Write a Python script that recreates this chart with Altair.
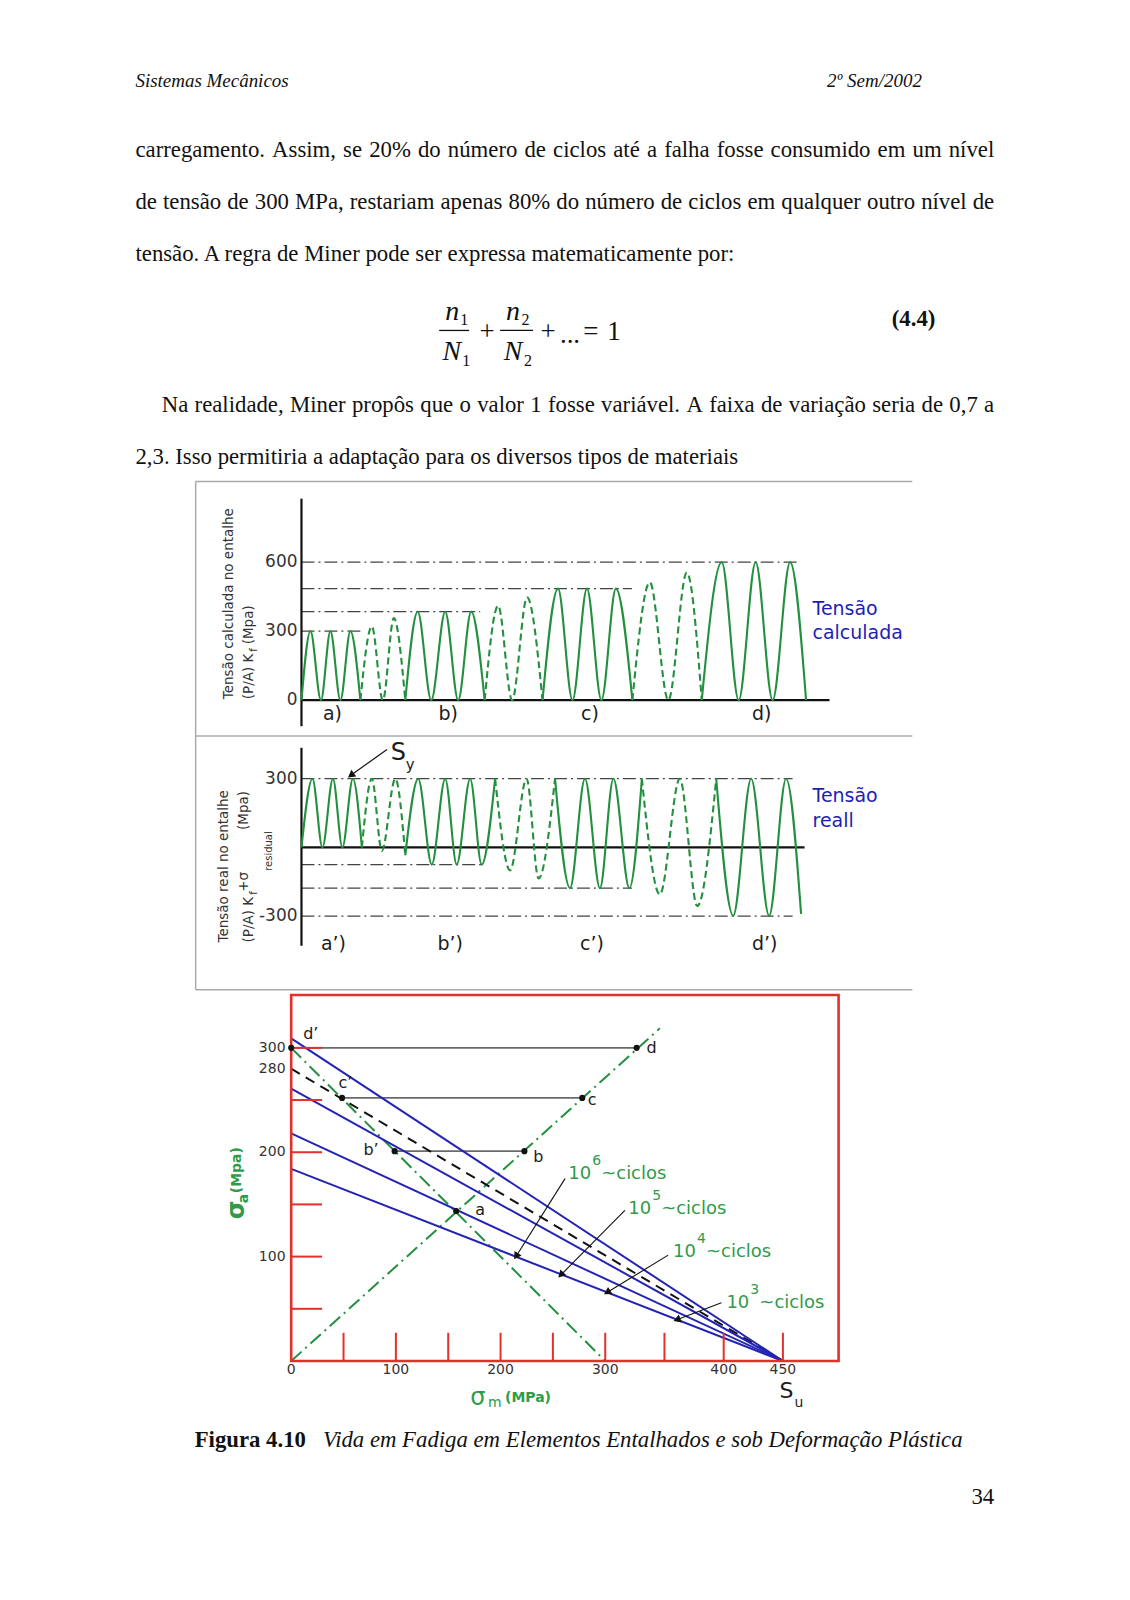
import unicodedata
import altair as alt
import pandas as pd

W = 1114
SERIF = "Liberation Serif"
SANS = "DejaVu Sans"
GREEN = "#22903e"
TXT_GREEN = "#2f9b48"
BLUE_TXT = "#1e1eb4"
BLUE = "#2424b4"
RED = "#e3302a"
FRAME = "#aaaaaa"
INK = "#1c1c1c"
GREY = "#333333"
DASHDOT = [13, 4, 2, 4]

# ------------------------------------------------------------------ page text
HEADER_TEXT = ["Sistemas Mecânicos", "2º Sem/2002"]
HEADER_X = [134.7, 922.5]
HEADER_Y = [79.0, 79.0]

BODY_TEXT = [
    "carregamento. Assim, se 20% do número de ciclos até a falha fosse consumido em um nível",
    "de tensão de 300 MPa, restariam apenas 80% do número de ciclos em qualquer outro nível de",
    "tensão. A regra de Miner pode ser expressa matematicamente por:",
    "Na realidade, Miner propôs que o valor 1 fosse variável. A faixa de variação seria de 0,7 a",
    "2,3. Isso permitiria a adaptação para os diversos tipos de materiais",
]
BODY_X = [134.7, 134.7, 134.7, 161.0, 134.7]
BODY_Y = [148, 200, 252, 403, 455]
BODY_JUSTIFY = [True, True, False, True, False]
BODY_RIGHT = 995.0
BODY_SIZE = 22.8

EQ_VAR = ["n", "N", "n", "N"]
EQ_VAR_X = [452, 451.5, 513, 513]
EQ_VAR_Y = [310, 350, 310, 350]
EQ_SUB = ["1", "1", "2", "2"]
EQ_SUB_X = [464, 466, 525.5, 528]
EQ_SUB_Y = [318, 359, 318, 359]
EQ_OP = ["+", "+", "...", "=", "1"]
EQ_OP_X = [487, 548, 570, 591, 614]
EQ_OP_Y = [330, 330, 333, 330, 330]
EQ_BAR_X0 = [439, 500]
EQ_BAR_X1 = [469, 533]
EQ_BAR_Y = [328.6, 328.6]
EQ_NUM = ["(4.4)"]
EQ_NUM_X = [936]
EQ_NUM_Y = [317]

CAPTION_BOLD = ["Figura 4.10"]
CAPTION_IT = ["Vida em Fadiga em Elementos Entalhados e sob Deformação Plástica"]
CAPTION_X = [194, 322.5]
CAPTION_Y = [1440, 1440]
PAGE_NUM = ["34"]

# ------------------------------------------------------------------ top panel: calculated stress
TOP_T = [0, 9, 19.5, 29, 39, 49, 59, 70.5, 81.5, 92.5, 104, 116.5, 130, 144, 157, 170, 183.5,
         197, 211, 226, 241.5, 257, 271.5, 286, 300.5, 315, 331.5, 349, 367.5, 386, 401,
         421, 438, 455, 472, 489.5, 505.5]
TOP_V = [0, 300, 0, 300, 0, 300, 0, 321, 0, 357, 0, 385, 0, 385, 0, 385, 0, 411, 0, 447, 0,
         485, 0, 485, 0, 485, 0, 512, 0, 555, 0, 600, 0, 600, 0, 600, 0]
TOP_RUNS = [("solid", 6), ("dashed", 4), ("solid", 6), ("dashed", 4), ("solid", 6),
            ("dashed", 4), ("solid", 6)]
TOP_LEVELS = [300, 385, 485, 600]
TOP_LEVEL_END = [59, 179, 331, 496]
TOP_TICKS = [600, 300, 0]
TOP_GROUPS = ["a)", "b)", "c)", "d)"]
TOP_GROUP_T = [31, 147, 289, 461]

# ------------------------------------------------------------------ middle panel: real stress
MID_T = [0, 11, 21, 31.5, 41, 51.5, 60.5, 70.5, 80.5, 94, 104, 117, 130.5, 144, 155.5, 169,
         180.5, 194, 209, 225.5, 237.5, 254, 269, 284, 299, 312.5, 328.5, 341, 359, 379,
         396.5, 415.5, 432.5, 450.5, 468.5, 485.5, 500.5]
MID_V = [0, 300, 0, 300, 0, 300, 0, 300, -15, 300, -35, 300, -75, 300, -75, 300, -75, 300,
         -100, 300, -135, 300, -178, 300, -178, 300, -178, 300, -205, 300, -256, 300,
         -298, 300, -298, 300, -290]
MID_RUNS = [("solid", 6), ("dashed", 4), ("solid", 7), ("dashed", 4), ("solid", 6),
            ("dashed", 4), ("solid", 5)]
MID_LEVELS = [300, -75, -178, -300]
MID_LEVEL_END = [492, 182, 331, 492]
MID_TICKS = [300, -300]
MID_GROUPS = ["a’)", "b’)", "c’)", "d’)"]
MID_GROUP_T = [32, 149, 291, 464]

# ------------------------------------------------------------------ bottom panel: Goodman diagram
SU = 450
LIFE_INTERCEPT = [309, 261, 218, 184]
DASHED_INTERCEPT = 280
PT_NAME = ["d’", "d", "c’", "c", "b’", "b", "a"]
PT_SM = [0, 326.5, 48.6, 278.1, 98.8, 222.8, 157.6]
PT_SA = [300, 300, 252, 252, 201, 201, 143.7]
PT_LBL_SM = [18.7, 339.1, 51.8, 287.5, 76.3, 236.1, 180.5]
PT_LBL_SA = [313.4, 300, 266.5, 249.6, 202.4, 195.4, 144.4]
PAIRS = [(0, 1), (2, 3), (4, 5)]
GREEN_LINE_1 = [(0, 0), (346.1, 318.7)]
GREEN_LINE_2 = [(0, 300), (300, 0)]
LBL_EXP = ["6", "5", "4", "3"]
LBL_SM = [264.7, 319.4, 357.3, 402.3]
LBL_SA = [179.5, 146.0, 104.5, 55.8]
ARR_SM0 = [261.6, 316.6, 353.1, 398.1]
ARR_SA0 = [174.7, 144.4, 101.4, 55.8]
ARR_SM1 = [215.5, 258.4, 302.5, 361.5]
ARR_SA1 = [101.3, 83.2, 66.3, 39.9]
ARR_ANG = [212.2, 224.7, 238.5, 249.1]
YTICK_LBL = ["300", "280", "200", "100"]
YTICK_V = [300, 280, 200, 100]
XTICK_LBL = ["0", "100", "200", "300", "400", "450"]
XTICK_V = [0, 100, 200, 300, 400, 450]
RED_YTICKS = [50, 100, 150, 200, 250, 300]
RED_XTICKS = [50, 100, 150, 200, 250, 300, 350, 400, 450]

# Times / Liberation Serif advance widths (1/1000 em), used to justify body lines
TIMES_W = dict(zip("abcdefghijklmnopqrstuvwxyz",
                   [444, 500, 444, 500, 444, 333, 500, 500, 278, 278, 500, 278, 778, 500, 500,
                    500, 500, 333, 389, 278, 500, 500, 722, 500, 500, 444]))
TIMES_W.update({"A": 722, "M": 889, "P": 556, "N": 722, "I": 333, "S": 556, ".": 250, ",": 250,
                "%": 833, ":": 278, " ": 250})
for d in "0123456789":
    TIMES_W[d] = 500


def word_w(word, size):
    tot = 0
    for c in word:
        base = unicodedata.normalize("NFD", c)[0]
        tot += TIMES_W.get(base, 500)
    return tot * size / 1000.0


def layout_body():
    xs, ys, words = [], [], []
    for line, x0, y, just in zip(BODY_TEXT, BODY_X, BODY_Y, BODY_JUSTIFY):
        if not just:
            xs.append(x0); ys.append(y); words.append(line)
            continue
        ws = line.split(" ")
        wid = [word_w(w, BODY_SIZE) for w in ws]
        gap = (BODY_RIGHT - x0 - sum(wid)) / (len(ws) - 1)
        x = x0
        for w, wd in zip(ws, wid):
            xs.append(x); ys.append(y); words.append(w)
            x += wd + gap
    return xs, ys, words


# ------------------------------------------------------------------ helpers
def sc(domain, reverse=False, rng=None):
    kw = {"domain": domain, "nice": False, "zero": False}
    if reverse:
        kw["reverse"] = True
    if rng is not None:
        kw["range"] = rng
    return alt.Scale(**kw)


def XY(xs, ys):
    return {"x": alt.X("x:Q", scale=xs, axis=None), "y": alt.Y("y:Q", scale=ys, axis=None)}


def T(xs, ys, xv, yv, labels, **mk):
    df = pd.DataFrame({"x": xv, "y": yv, "text": labels})
    mk.setdefault("baseline", "middle")
    return alt.Chart(df).mark_text(**mk).encode(**XY(xs, ys), text="text:N")


def R(xs, ys, x0, x1, y0, y1, **mk):
    df = pd.DataFrame({"x": x0, "x2": x1, "y": y0, "y2": y1})
    return alt.Chart(df).mark_rule(**mk).encode(**XY(xs, ys), x2="x2:Q", y2="y2:Q")


def waves(xs, ys, t, v, runs):
    rows = []
    i = 0
    for k, (style, n) in enumerate(runs):
        for j in range(i, i + n + 1):
            rows.append({"x": t[j], "y": v[j], "seg": k, "style": style})
        i += n
    df = pd.DataFrame(rows)
    out = []
    for style in ("solid", "dashed"):
        mk = dict(interpolate="monotone", color=GREEN, strokeWidth=2.1)
        if style == "dashed":
            mk["strokeDash"] = [7, 4]
        out.append(alt.Chart(df[df["style"] == style]).mark_line(**mk).encode(
            **XY(xs, ys), detail="seg:N", order="x:Q"))
    return out


# ------------------------------------------------------------------ chart A: text block
XA = sc([8, 1122])
YA = sc([8, 478], reverse=True)
serif = dict(font=SERIF, color="#111111")
bx, by, bw = layout_body()
chartA = alt.layer(
    T(XA, YA, [HEADER_X[0]], [HEADER_Y[0]], [HEADER_TEXT[0]], align="left", fontSize=19, fontStyle="italic", **serif),
    T(XA, YA, [HEADER_X[1]], [HEADER_Y[1]], [HEADER_TEXT[1]], align="right", fontSize=19, fontStyle="italic", **serif),
    T(XA, YA, bx, by, bw, align="left", fontSize=BODY_SIZE, **serif),
    T(XA, YA, EQ_VAR_X, EQ_VAR_Y, EQ_VAR, align="center", fontSize=28, fontStyle="italic", **serif),
    T(XA, YA, EQ_SUB_X, EQ_SUB_Y, EQ_SUB, align="center", fontSize=16, **serif),
    T(XA, YA, EQ_OP_X, EQ_OP_Y, EQ_OP, align="center", fontSize=27, **serif),
    T(XA, YA, EQ_NUM_X, EQ_NUM_Y, EQ_NUM, align="right", fontSize=22.8, fontWeight="bold", **serif),
    R(XA, YA, EQ_BAR_X0, EQ_BAR_X1, EQ_BAR_Y, EQ_BAR_Y, color="#111111", strokeWidth=1.3),
).properties(width=W, height=470)

# ------------------------------------------------------------------ chart B: calculated stress
XT = sc([-293, 821])
YB = sc([-147.5, 958.8])
lab = dict(font=SANS, color=INK)
chartB = alt.layer(
    R(XT, YB, [-106], [612], [950.1], [950.1], color=FRAME, strokeWidth=1.5),
    R(XT, YB, [-106], [-106], [-147.5], [950.1], color=FRAME, strokeWidth=1.5),
    R(XT, YB, [0] * 4, TOP_LEVEL_END, TOP_LEVELS, TOP_LEVELS, color="#444444", strokeWidth=1.2, strokeDash=DASHDOT),
    R(XT, YB, [0, 0], [0, 529], [-113, 0], [876, 0], color="#111111", strokeWidth=2.2),
    *waves(XT, YB, TOP_T, TOP_V, TOP_RUNS),
    T(XT, YB, [-4] * 3, TOP_TICKS, [str(v) for v in TOP_TICKS], align="right", fontSize=17, font=SANS, color=GREY),
    T(XT, YB, TOP_GROUP_T, [-60.7] * 4, TOP_GROUPS, align="center", fontSize=19, **lab),
    T(XT, YB, [512, 512], [397.8, 292], ["Tensão", "calculada"], align="left", fontSize=19, font=SANS, color=BLUE_TXT),
    T(XT, YB, [-72.7, -52.7, -52.7], [4.3, 4.3, 243], ["Tensão calculada no entalhe", "(P/A) K", "(Mpa)"],
      angle=270, align="left", fontSize=13.5, font=SANS, color=GREY),
    T(XT, YB, [-47.5], [210], ["f"], angle=270, align="left", fontSize=10, font=SANS, color=GREY),
).properties(width=W, height=255)

# ------------------------------------------------------------------ chart C: real stress
YC = sc([-629.6, 494.6])
chartC = alt.layer(
    R(XT, YC, [-106], [-106], [-620.9], [494.6], color=FRAME, strokeWidth=1.5),
    R(XT, YC, [-106, -106], [612, 612], [486.9, -620.9], [486.9, -620.9], color=FRAME, strokeWidth=1.5),
    R(XT, YC, [0] * 4, MID_LEVEL_END, MID_LEVELS, MID_LEVELS, color="#444444", strokeWidth=1.2, strokeDash=DASHDOT),
    R(XT, YC, [0, 0], [0, 504], [-429.2, 0], [434.9, 0], color="#111111", strokeWidth=2.2),
    *waves(XT, YC, MID_T, MID_V, MID_RUNS),
    T(XT, YC, [-4] * 2, MID_TICKS, [str(v) for v in MID_TICKS], align="right", fontSize=17, font=SANS, color=GREY),
    T(XT, YC, MID_GROUP_T, [-421.8] * 4, MID_GROUPS, align="center", fontSize=19, **lab),
    T(XT, YC, [512, 512], [224.4, 115.3], ["Tensão", "reall"], align="left", fontSize=19, font=SANS, color=BLUE_TXT),
    T(XT, YC, [-77.7, -52.7, -57.7, -58], [-414.8, -414.8, -193.7, 76.3],
      ["Tensão real no entalhe", "(P/A) K", "+σ", "(Mpa)"], angle=270, align="left", fontSize=13.5, font=SANS, color=GREY),
    T(XT, YC, [-48, -33], [-207, -102], ["f", "residual"], angle=270, align="left", fontSize=10, font=SANS, color=GREY),
    R(XT, YC, [85.7], [50.5], [427.9], [318], color="#111111", strokeWidth=1.2),
    alt.Chart(pd.DataFrame({"x": [50.5], "y": [318], "ang": [234.5]})).mark_point(
        shape="triangle", filled=True, size=70, color="#111111", opacity=1).encode(
        **XY(XT, YC), angle=alt.Angle("ang:Q", scale=None)),
    T(XT, YC, [97], [411], ["S"], align="center", fontSize=24, **lab),
    T(XT, YC, [104.5], [358], ["y"], align="left", fontSize=15, **lab),
).properties(width=W, height=258)

# ------------------------------------------------------------------ chart D: Goodman diagram
XD = sc([-269.6, 0, 300, 450, 735.4], rng=[0, 282.7, 597.3, 775.3, 1114])
YD = sc([-42.08, 353.83])
n_life = len(LIFE_INTERCEPT)
pts = pd.DataFrame({"x": PT_SM, "y": PT_SA})
heads = pd.DataFrame({"x": ARR_SM1, "y": ARR_SA1, "ang": ARR_ANG})
chartD = alt.layer(
    R(XD, YD, [PT_SM[a] for a, b in PAIRS], [PT_SM[b] for a, b in PAIRS],
      [PT_SA[a] for a, b in PAIRS], [PT_SA[b] for a, b in PAIRS], color="#6a6a6a", strokeWidth=1.8),
    R(XD, YD, [GREEN_LINE_1[0][0], GREEN_LINE_2[0][0]], [GREEN_LINE_1[1][0], GREEN_LINE_2[1][0]],
      [GREEN_LINE_1[0][1], GREEN_LINE_2[0][1]], [GREEN_LINE_1[1][1], GREEN_LINE_2[1][1]],
      color=GREEN, strokeWidth=2, strokeDash=[14, 5, 2, 5]),
    R(XD, YD, [0], [SU], [DASHED_INTERCEPT], [0], color="#111111", strokeWidth=2, strokeDash=[10, 7]),
    R(XD, YD, [0] * n_life, [SU] * n_life, LIFE_INTERCEPT, [0] * n_life, color=BLUE, strokeWidth=2),
    R(XD, YD, ARR_SM0, ARR_SM1, ARR_SA0, ARR_SA1, color="#111111", strokeWidth=1.1),
    alt.Chart(heads).mark_point(shape="triangle", filled=True, size=70, color="#111111", opacity=1).encode(
        **XY(XD, YD), angle=alt.Angle("ang:Q", scale=None)),
    R(XD, YD, [0] * 6, [29.5] * 6, RED_YTICKS, RED_YTICKS, color=RED, strokeWidth=2),
    R(XD, YD, RED_XTICKS, RED_XTICKS, [0] * 9, [27] * 9, color=RED, strokeWidth=2),
    alt.Chart(pd.DataFrame({"x": [0], "x2": [497], "y": [0], "y2": [350.7]})).mark_rect(
        filled=False, stroke=RED, strokeWidth=2.6).encode(**XY(XD, YD), x2="x2:Q", y2="y2:Q"),
    alt.Chart(pts).mark_circle(size=38, color="#111111", opacity=1).encode(**XY(XD, YD)),
    T(XD, YD, PT_LBL_SM, PT_LBL_SA, PT_NAME, align="center", fontSize=16, **lab),
    T(XD, YD, [-5.4] * 4, YTICK_V, YTICK_LBL, align="right", fontSize=14, font=SANS, color=GREY),
    T(XD, YD, XTICK_V, [-8.6] * 6, XTICK_LBL, align="center", fontSize=14, font=SANS, color=GREY),
    T(XD, YD, LBL_SM, LBL_SA, ["10"] * 4, align="left", fontSize=18, font=SANS, color=TXT_GREEN),
    T(XD, YD, LBL_SM, LBL_SA, LBL_EXP, align="left", dx=24, dy=-13, fontSize=14, font=SANS, color=TXT_GREEN),
    T(XD, YD, LBL_SM, LBL_SA, ["~ciclos"] * 4, align="left", dx=33, fontSize=18, font=SANS, color=TXT_GREEN),
    T(XD, YD, [-51.5], [135.8], ["σ"], angle=270, align="left", fontSize=24, fontWeight="bold", font=SANS, color=TXT_GREEN),
    T(XD, YD, [-45.5], [151.1], ["a"], angle=270, align="left", fontSize=14, fontWeight="bold", font=SANS, color=TXT_GREEN),
    T(XD, YD, [-51.5], [160.7], ["(Mpa)"], angle=270, align="left", fontSize=14, fontWeight="bold", font=SANS, color=TXT_GREEN),
    T(XD, YD, [171], [-35.4], ["σ"], align="left", fontSize=24, font=SANS, color=TXT_GREEN),
    T(XD, YD, [188.1], [-40.2], ["m"], align="left", fontSize=14, font=SANS, color=TXT_GREEN),
    T(XD, YD, [204.3], [-35.4], ["(MPa)"], align="left", fontSize=14, fontWeight="bold", font=SANS, color=TXT_GREEN),
    T(XD, YD, [452.9], [-28.5], ["S"], align="center", fontSize=22, **lab),
    T(XD, YD, [459.8], [-40.5], ["u"], align="left", fontSize=14, **lab),
).properties(width=W, height=414)

# ------------------------------------------------------------------ chart E: caption
YE = sc([1405, 1592], reverse=True)
chartE = alt.layer(
    T(XA, YE, [CAPTION_X[0]], [CAPTION_Y[0]], CAPTION_BOLD, align="left", fontSize=22.8, fontWeight="bold", **serif),
    T(XA, YE, [CAPTION_X[1]], [CAPTION_Y[1]], CAPTION_IT, align="left", fontSize=22.8, fontStyle="italic", **serif),
    T(XA, YE, [995], [1497], PAGE_NUM, align="right", fontSize=22.8, **serif),
).properties(width=W, height=187)

chart = alt.vconcat(chartA, chartB, chartC, chartD, chartE, spacing=0, bounds="flush").resolve_scale(
    x="independent", y="independent"
).properties(padding=0).configure_view(stroke="transparent")

chart.save("out.html", embed_options={"renderer": "svg", "actions": False})
